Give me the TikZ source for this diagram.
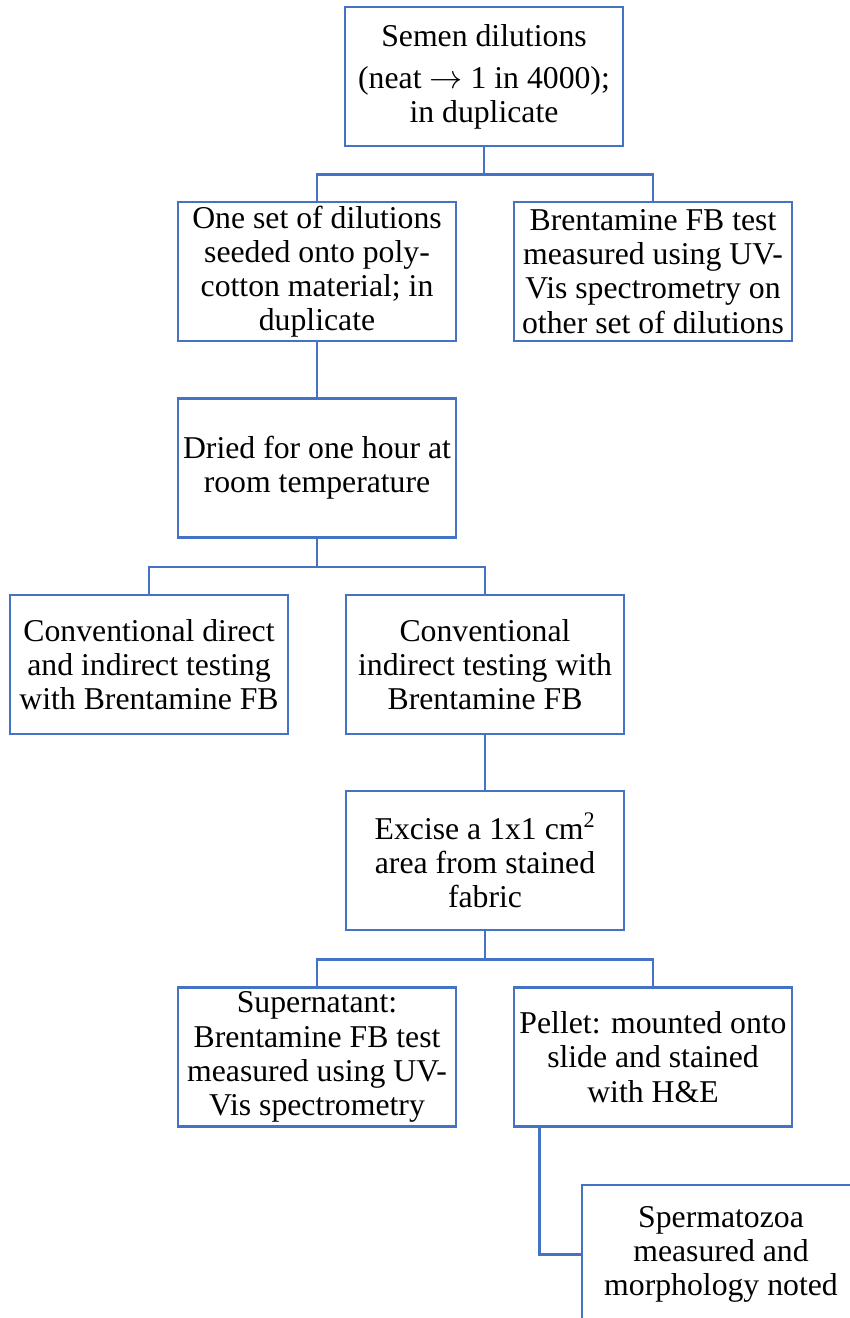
\documentclass[tikz,border=0pt]{standalone}
\usepackage{fontspec}
\setmainfont{Liberation Serif}

\definecolor{boxblue}{RGB}{68,114,196}
\tikzset{every picture/.style={line width=0.75pt}}
\tikzset{
	flowbox/.style={draw=boxblue, line width=2.2pt, fill=white, align=center, inner sep=0pt,
		minimum width=208.5pt, minimum height=104.25pt, font=\fontsize{23.8}{25.6}\selectfont},
	link/.style={draw=boxblue, line width=2.2pt}
}

\begin{document}
\begin{tikzpicture}[x=0.75pt,y=0.75pt,yscale=-1,xscale=1]
		\useasboundingbox (0,0) rectangle (850,1318);
		\clip (0,0) rectangle (850,1318);

		\node [flowbox] (semen) at (484,76.5) {Semen dilutions\\[6pt](neat $\rightarrow$ 1 in 4000);\\in duplicate};
		\node [flowbox] (oneset) at (317,271.5) {One set of dilutions\\seeded onto poly-\\cotton material; in\\duplicate};
		\node [flowbox] (brent) at (653,271.5) {Brentamine FB test\\measured using UV-\\Vis spectrometry on\\other set of dilutions};
		\node [flowbox] (dried) at (317,468) {Dried for one hour at\\room temperature};
		\node [flowbox] (convboth) at (149,664.5) {Conventional direct\\and indirect testing\\with Brentamine FB};
		\node [flowbox] (convind) at (485,664.5) {Conventional\\indirect testing with\\Brentamine FB};
		\node [flowbox] (excise) at (485,860.5) {Excise a 1x1 cm\textsuperscript{2}\\area from stained\\fabric};
		\node [flowbox] (super) at (317,1057) {Supernatant:\\Brentamine FB test\\measured using UV-\\Vis spectrometry};
		\node [flowbox] (pellet) at (653,1057) {Pellet: mounted onto\\slide and stained\\with H\&E};
		\node [flowbox] (sperm) at (721,1254.5) {Spermatozoa\\measured and\\morphology noted};

		\draw [link] (semen.south) -- ++(0,27) -| (oneset.north);
		\draw [link] (semen.south) -- ++(0,27) -| (brent.north);
		\draw [link] (oneset.south) -- (dried.north);
		\draw [link] (dried.south) -- ++(0,28) -| (convboth.north);
		\draw [link] (dried.south) -- ++(0,28) -| (convind.north);
		\draw [link] (convind.south) -- (excise.north);
		\draw [link] (excise.south) -- ++(0,28) -| (super.north);
		\draw [link] (excise.south) -- ++(0,28) -| (pellet.north);
		\draw [link] ([xshift=20.25pt]pellet.south west) |- (sperm.west);

\end{tikzpicture}
\end{document}
